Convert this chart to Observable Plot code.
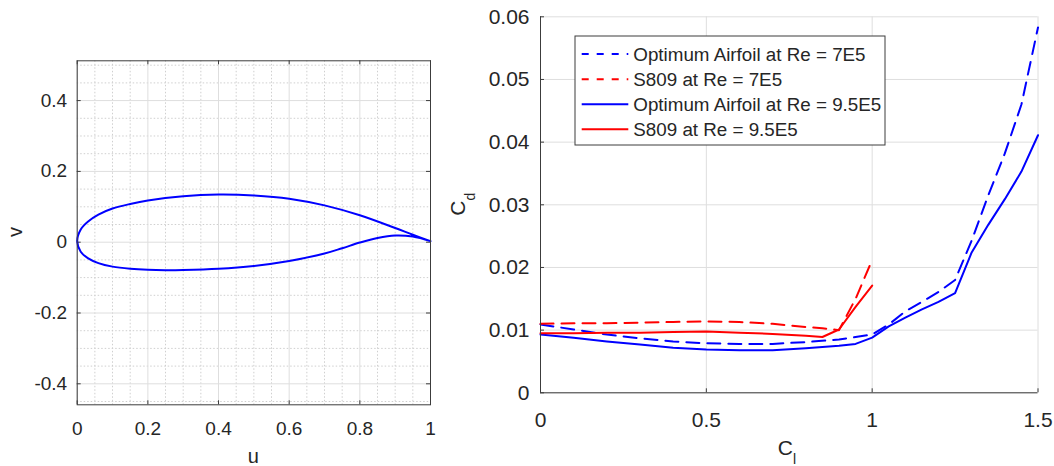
<!DOCTYPE html>
<html><head><meta charset="utf-8">
<script src="https://cdn.jsdelivr.net/npm/d3@7"></script>
<script src="https://cdn.jsdelivr.net/npm/@observablehq/plot@0.6"></script>
<style>
body{margin:0;background:#fff;}
#wrap{position:relative;width:1054px;height:466px;overflow:hidden;font-family:"Liberation Sans",Arial,sans-serif;}
#left,#right{position:absolute;top:0;}
#left{left:0;} #right{left:440px;}
</style></head><body><div id="wrap"><div id="left"></div><div id="right"></div></div>
<script>
// ---------- Airfoil geometry (left panel) ----------
const upperU = [0, 0.01, 0.03, 0.06, 0.1, 0.15, 0.2, 0.3, 0.4, 0.5, 0.6, 0.7, 0.8, 0.9, 0.95, 1.0];
const upperV = [0.003, 0.036, 0.058, 0.078, 0.095, 0.108, 0.118, 0.130, 0.1345, 0.132, 0.123, 0.104, 0.076, 0.040, 0.021, 0.003];
const lowerU = [0, 0.01, 0.03, 0.06, 0.1, 0.15, 0.2, 0.25, 0.3, 0.4, 0.5, 0.6, 0.7, 0.75, 0.8, 0.85, 0.9, 0.95, 1.0];
const lowerV = [0.003, -0.027, -0.045, -0.059, -0.069, -0.075, -0.078, -0.079, -0.0785, -0.075, -0.067, -0.053, -0.032, -0.017, -0.001, 0.012, 0.019, 0.016, 0.003];
const uTicks = [0, 0.2, 0.4, 0.6, 0.8, 1];
const vTicks = [-0.4, -0.2, 0, 0.2, 0.4];

// ---------- Drag polars (right panel) ----------
const clOpt = [0, 0.1, 0.2, 0.3, 0.4, 0.5, 0.6, 0.7, 0.8, 0.9, 0.95, 1.0, 1.05, 1.1, 1.15, 1.2, 1.25, 1.3, 1.35, 1.4, 1.45, 1.5];
const cdOpt7 = [0.0109, 0.0101, 0.0093, 0.0087, 0.0082, 0.0079, 0.0078, 0.0078, 0.0081, 0.0085, 0.0089, 0.0093, 0.0109, 0.0130, 0.0145, 0.0161, 0.0180, 0.0243, 0.0315, 0.0382, 0.0460, 0.0583];
const cdOpt95 = [0.0093, 0.0088, 0.0082, 0.0077, 0.0072, 0.0069, 0.0068, 0.0068, 0.0071, 0.0075, 0.0078, 0.0088, 0.0106, 0.0120, 0.0133, 0.0145, 0.0159, 0.0224, 0.0268, 0.0309, 0.0353, 0.0411];
const clS809 = [0, 0.1, 0.2, 0.3, 0.4, 0.5, 0.6, 0.7, 0.8, 0.85, 0.9, 0.95, 1.0];
const cdS809_7 = [0.0110, 0.0111, 0.0111, 0.0112, 0.0113, 0.0114, 0.0113, 0.0110, 0.0105, 0.0103, 0.0100, 0.0150, 0.0212];
const cdS809_95 = [0.0095, 0.0095, 0.0096, 0.0096, 0.0097, 0.0098, 0.0096, 0.0094, 0.0091, 0.0089, 0.0101, 0.0137, 0.0171];
const clTicks = [0, 0.5, 1, 1.5];
const cdTicks = [0, 0.01, 0.02, 0.03, 0.04, 0.05, 0.06];
const seriesNames = ["Optimum Airfoil at Re = 7E5", "S809 at Re = 7E5", "Optimum Airfoil at Re = 9.5E5", "S809 at Re = 9.5E5"];
const seriesColors = ["#0000ff", "#ff0000", "#0000ff", "#ff0000"];
const seriesDashed = [true, true, false, false];

const TXT = "#262626", AX = "#3c3c3c";
const fmt = d => String(+d.toFixed(3));

// ---------- Left plot ----------
const foil = [];
for (let i = upperU.length - 1; i >= 0; i--) foil.push({u: upperU[i], v: upperV[i]});
for (let i = 1; i < lowerU.length; i++) foil.push({u: lowerU[i], v: lowerV[i]});
const minorU = d3.range(0, 1.0001, 0.05).map(d => +d.toFixed(2)).filter(d => !uTicks.some(t => Math.abs(t - d) < 1e-6));
const minorV = d3.range(-0.45, 0.5001, 0.05).map(d => +d.toFixed(2)).filter(d => !vTicks.some(t => Math.abs(t - d) < 1e-6));

const L = {w: 440, h: 466, ml: 76.7, mr: 10, mt: 60.3, mb: 61.7};
const Lih = L.h - L.mt - L.mb, Liw = L.w - L.ml - L.mr;
const left = Plot.plot({
  width: L.w, height: L.h, marginLeft: L.ml, marginRight: L.mr, marginTop: L.mt, marginBottom: L.mb,
  style: {fontSize: "19px", fontFamily: "'Liberation Sans', Arial, sans-serif", color: TXT, background: "transparent"},
  x: {domain: [0, 1]},
  y: {domain: [-0.4593, 0.5124]},
  marks: [
    Plot.gridX(minorU, {stroke: "#cfcfcf", strokeOpacity: 1, strokeDasharray: "1.5,2"}),
    Plot.gridY(minorV, {stroke: "#cfcfcf", strokeOpacity: 1, strokeDasharray: "1.5,2"}),
    Plot.gridX(uTicks, {stroke: "#dedede", strokeOpacity: 1}),
    Plot.gridY(vTicks, {stroke: "#dedede", strokeOpacity: 1}),
    Plot.axisX(uTicks, {tickSize: 0, tickPadding: 17, tickFormat: fmt, label: null, fill: TXT}),
    Plot.axisY(vTicks, {tickSize: 0, tickPadding: 10, tickFormat: fmt, label: null, fill: TXT}),
    Plot.tickX(uTicks, {x: d => d, insetTop: Lih - 4, stroke: AX}),
    Plot.tickX(uTicks, {x: d => d, insetBottom: Lih - 4, stroke: AX}),
    Plot.tickY(vTicks, {y: d => d, insetRight: Liw - 4, stroke: AX}),
    Plot.tickY(vTicks, {y: d => d, insetLeft: Liw - 4, stroke: AX}),
    Plot.line(foil, {x: "u", y: "v", stroke: "#0000ff", strokeWidth: 2, curve: "catmull-rom"}),
    Plot.frame({stroke: AX})
  ]
});
document.getElementById("left").appendChild(left);
{
  const s = d3.select(left);
  s.append("text").attr("x", 253.3).attr("y", 463).attr("text-anchor", "middle")
    .attr("fill", TXT).style("font-size", "20px").text("u");
  s.append("text").attr("transform", "translate(21.5,232) rotate(-90)").attr("text-anchor", "middle")
    .attr("fill", TXT).style("font-size", "20px").text("v");
}

// ---------- Right plot ----------
const R = {w: 614, h: 466, ml: 100, mr: 16.5, mt: 16.3, mb: 73.7};
const Rih = R.h - R.mt - R.mb, Riw = R.w - R.ml - R.mr;
const toRows = (xs, ys) => xs.map((x, i) => ({cl: x, cd: ys[i]}));
const series = [toRows(clOpt, cdOpt7), toRows(clS809, cdS809_7), toRows(clOpt, cdOpt95), toRows(clS809, cdS809_95)];
const right = Plot.plot({
  width: R.w, height: R.h, marginLeft: R.ml, marginRight: R.mr, marginTop: R.mt, marginBottom: R.mb,
  style: {fontSize: "21px", fontFamily: "'Liberation Sans', Arial, sans-serif", color: TXT, background: "transparent"},
  x: {domain: [0, 1.5]},
  y: {domain: [0, 0.06]},
  marks: [
    Plot.gridX(clTicks, {stroke: "#dedede", strokeOpacity: 1}),
    Plot.gridY(cdTicks, {stroke: "#dedede", strokeOpacity: 1}),
    Plot.axisX(clTicks, {tickSize: 0, tickPadding: 19, tickFormat: fmt, label: null, fill: TXT}),
    Plot.axisY(cdTicks, {tickSize: 0, tickPadding: 11, tickFormat: fmt, label: null, fill: TXT}),
    Plot.tickX(clTicks, {x: d => d, insetTop: Rih - 4, stroke: AX}),
    Plot.tickY(cdTicks, {y: d => d, insetRight: Riw - 4, stroke: AX}),
    ...series.map((data, i) => Plot.line(data, {x: "cl", y: "cd", stroke: seriesColors[i], strokeWidth: 2,
      strokeDasharray: seriesDashed[i] ? "13,8" : null})),
    Plot.ruleX([0], {stroke: AX}),
    Plot.ruleY([0], {stroke: AX})
  ]
});
document.getElementById("right").appendChild(right);
{
  const s = d3.select(right);
  const xl = s.append("text").attr("x", 347).attr("y", 455).attr("text-anchor", "middle")
    .attr("fill", TXT).style("font-size", "21px");
  xl.append("tspan").text("C");
  xl.append("tspan").attr("dy", 9).style("font-size", "14px").text("l");
  const yl = s.append("text").attr("transform", "translate(25,204.3) rotate(-90)").attr("text-anchor", "middle")
    .attr("fill", TXT).style("font-size", "21px");
  yl.append("tspan").text("C");
  yl.append("tspan").attr("dy", 10).style("font-size", "14px").text("d");

  const g = s.append("g").attr("text-anchor", "start");
  g.append("rect").attr("x", 135).attr("y", 36).attr("width", 310).attr("height", 109)
    .attr("fill", "#fff").attr("stroke", AX).attr("stroke-width", 1);
  const rowsY = [54, 79.3, 104.3, 129.3];
  seriesNames.forEach((name, i) => {
    g.append("line").attr("x1", 141.7).attr("x2", 188.3).attr("y1", rowsY[i]).attr("y2", rowsY[i])
      .attr("stroke", seriesColors[i]).attr("stroke-width", 2)
      .attr("stroke-dasharray", seriesDashed[i] ? "7,8" : null);
    g.append("text").attr("x", 193.3).attr("y", rowsY[i]).attr("dy", "0.35em").attr("text-anchor", "start")
      .attr("fill", TXT).style("font-size", "18.8px").text(name);
  });
}
</script>
</body></html>
